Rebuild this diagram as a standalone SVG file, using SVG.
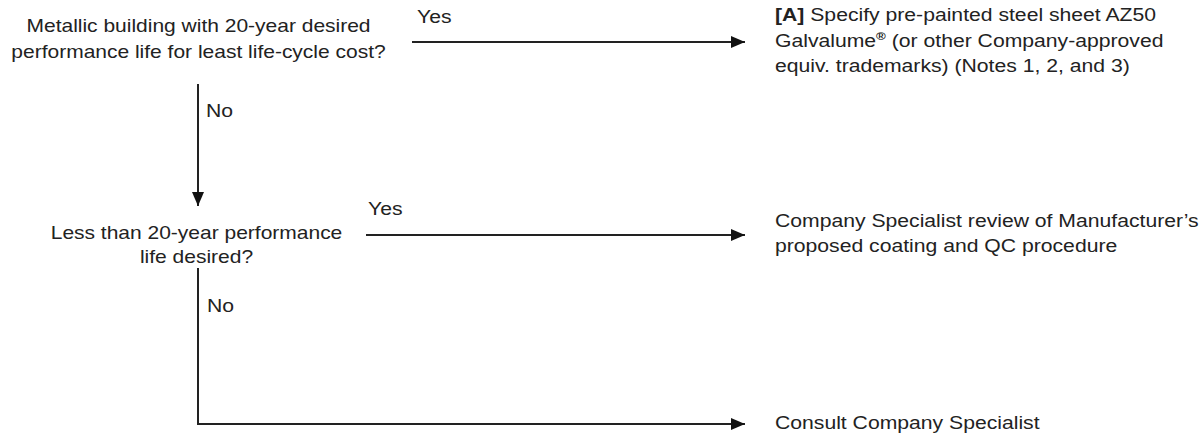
<svg xmlns="http://www.w3.org/2000/svg" width="1204" height="436" viewBox="0 0 1204 436">
<style>
text { font-family: "Liberation Sans", Arial, sans-serif; font-size: 17.5px; fill: #222; }
.c { text-anchor: middle; }
.conn { stroke: #222; stroke-width: 2; fill: none; }
</style>
<defs>
<marker id="arr" markerWidth="14" markerHeight="12" refX="14" refY="6" orient="auto" markerUnits="userSpaceOnUse">
<path d="M0,0 L14,6 L0,12 Z" fill="#111"/>
</marker>
</defs>
<rect width="1204" height="436" fill="#fff"/>
<g id="q1">
<text class="c" transform="translate(198.5,32) scale(1.2,1)">Metallic building with 20-year desired</text>
<text class="c" transform="translate(198.5,58) scale(1.2,1)">performance life for least life-cycle cost?</text>
</g>
<g id="a">
<text transform="translate(775,21) scale(1.21,1)"><tspan font-weight="bold">[A]</tspan> Specify pre-painted steel sheet AZ50</text>
<text transform="translate(775,47) scale(1.21,1)">Galvalume<tspan font-size="11" dy="-7" font-weight="bold">®</tspan><tspan dy="7"> (or other Company-approved</tspan></text>
<text transform="translate(775,72) scale(1.21,1)">equiv. trademarks) (Notes 1, 2, and 3)</text>
</g>
<g id="q2">
<text class="c" transform="translate(196.5,239) scale(1.2,1)">Less than 20-year performance</text>
<text class="c" transform="translate(196.5,263) scale(1.2,1)">life desired?</text>
</g>
<g id="review">
<text transform="translate(775,227) scale(1.21,1)">Company Specialist review of Manufacturer’s</text>
<text transform="translate(775,252) scale(1.21,1)">proposed coating and QC procedure</text>
</g>
<g id="consult">
<text transform="translate(775,429) scale(1.21,1)">Consult Company Specialist</text>
</g>
<g id="connectors">
<line class="conn" x1="412" y1="42" x2="745" y2="42" marker-end="url(#arr)"/>
<text transform="translate(417,23) scale(1.21,1)">Yes</text>
<line class="conn" x1="198" y1="84" x2="198" y2="206" marker-end="url(#arr)"/>
<text transform="translate(206,117) scale(1.21,1)">No</text>
<line class="conn" x1="366" y1="235" x2="745" y2="235" marker-end="url(#arr)"/>
<text transform="translate(368,215) scale(1.21,1)">Yes</text>
<polyline class="conn" points="198,268 198,424 745,424" marker-end="url(#arr)"/>
<text transform="translate(207,312) scale(1.21,1)">No</text>
</g>
</svg>
